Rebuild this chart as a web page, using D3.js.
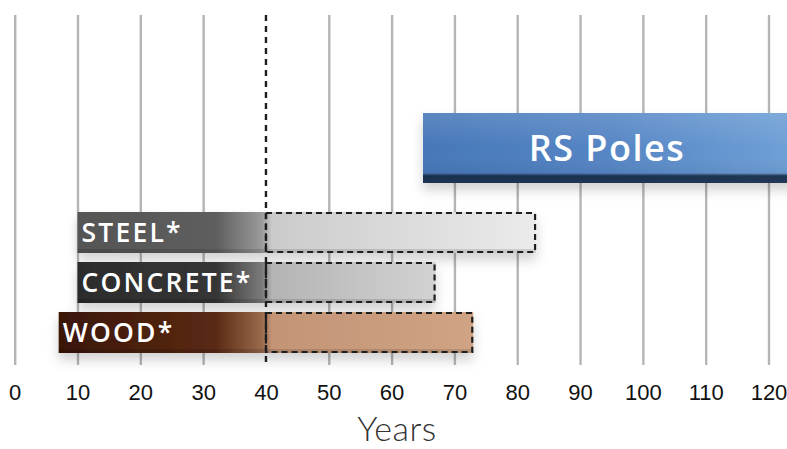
<!DOCTYPE html>
<html>
<head>
<meta charset="utf-8">
<script src="https://cdn.jsdelivr.net/npm/d3@7"></script>
<style>
html,body{margin:0;padding:0;background:#fff;}
svg{display:block;}
</style>
</head>
<body>
<svg id="chart" width="787" height="449"></svg>
<script>
// ---- data ----
const materials = ["STEEL*", "CONCRETE*", "WOOD*"];
const materialStart = [10, 10, 7];
const materialEnd = [83, 67, 73];
const rsLabel = "RS Poles";
const rsStart = 65;
const rsEnd = 125;
const referenceYear = 40;
const tickValues = [0, 10, 20, 30, 40, 50, 60, 70, 80, 90, 100, 110, 120];
const axisTitle = "Years";

// colour stops per material: [dark start, dark mid, fade, light start, light end]
const materialColors = [
  ["#555555", "#5e5e5e", "#9a9a9a", "#cbcbcb", "#ebebeb"],
  ["#2c2c2c", "#353535", "#7a7a7a", "#b4b4b4", "#d2d2d2"],
  ["#3a1606", "#5a2a14", "#9a6a4c", "#c39476", "#d0a385"]
];

const W = 787, H = 449;
const svg = d3.select("#chart");
const defs = svg.append("defs");

const x = d3.scaleLinear().domain([0, 120]).range([14.7, 768.5]);
const y = d3.scaleBand().domain(materials).range([207.5, 357.5]).paddingInner(0.18).paddingOuter(0.09);

const gridTop = 15, gridBottom = 365;

// shadow filter
const f = defs.append("filter").attr("id", "shadow").attr("x", "-10%").attr("y", "-40%").attr("width", "120%").attr("height", "200%");
f.append("feDropShadow").attr("dx", 0).attr("dy", 7).attr("stdDeviation", 6).attr("flood-color", "#000").attr("flood-opacity", 0.18);

// grid via axis
const axis = d3.axisBottom(x).tickValues(tickValues).tickSizeInner(-(gridBottom - gridTop)).tickSizeOuter(0).tickPadding(19).tickFormat(d3.format("d"));
const gAxis = svg.append("g").attr("transform", `translate(0,${gridBottom})`).call(axis);
gAxis.select(".domain").remove();
gAxis.selectAll(".tick line").attr("stroke", "#b5b5b5").attr("stroke-width", 2.4)
  .attr("opacity", d => d === referenceYear ? 0 : 1);
gAxis.selectAll(".tick text").attr("fill", "#111").attr("font-family", "'Liberation Sans', Arial, sans-serif").attr("font-size", 22);

// RS Poles bar
const rsTop = 113, rsH = 70;
const rsGrad = defs.append("linearGradient").attr("id", "rsGrad").attr("gradientUnits", "userSpaceOnUse")
  .attr("x1", x(rsStart)).attr("x2", W).attr("y1", 0).attr("y2", 0);
rsGrad.append("stop").attr("offset", 0).attr("stop-color", "#4677b8");
rsGrad.append("stop").attr("offset", 0.5).attr("stop-color", "#5585c4");
rsGrad.append("stop").attr("offset", 1).attr("stop-color", "#6e9fd6");
const rsV = defs.append("linearGradient").attr("id", "rsV").attr("x1", 0).attr("x2", 0).attr("y1", 0).attr("y2", 1);
rsV.append("stop").attr("offset", 0).attr("stop-color", "#fff").attr("stop-opacity", 0.12);
rsV.append("stop").attr("offset", 0.5).attr("stop-color", "#fff").attr("stop-opacity", 0);
rsV.append("stop").attr("offset", 0.86).attr("stop-color", "#000").attr("stop-opacity", 0.05);
rsV.append("stop").attr("offset", 0.9).attr("stop-color", "#10223c").attr("stop-opacity", 0.85);
rsV.append("stop").attr("offset", 1).attr("stop-color", "#1a2d48").attr("stop-opacity", 0.9);

const rsG = svg.append("g").attr("filter", "url(#shadow)");
rsG.append("rect").attr("x", x(rsStart)).attr("y", rsTop).attr("width", x(rsEnd) - x(rsStart)).attr("height", rsH).attr("fill", "url(#rsGrad)");
svg.append("rect").attr("x", x(rsStart)).attr("y", rsTop).attr("width", x(rsEnd) - x(rsStart)).attr("height", rsH).attr("fill", "url(#rsV)");
svg.append("text").attr("x", 607).attr("y", rsTop + 35).attr("dy", "0.36em").attr("text-anchor", "middle")
  .attr("fill", "#fff").attr("font-family", "'Open Sans', sans-serif").attr("font-weight", 600).attr("font-size", 36)
  .attr("letter-spacing", 1.5)
  .text(rsLabel);

// material bars
materials.forEach((m, i) => {
  const c = materialColors[i];
  const x0 = x(materialStart[i]), x1 = x(materialEnd[i]), xr = x(referenceYear);
  const g = defs.append("linearGradient").attr("id", "mg" + i).attr("gradientUnits", "userSpaceOnUse")
    .attr("x1", x0).attr("x2", x1).attr("y1", 0).attr("y2", 0);
  const off = v => (v - x0) / (x1 - x0);
  g.append("stop").attr("offset", 0).attr("stop-color", c[0]);
  g.append("stop").attr("offset", off(x(32))).attr("stop-color", c[1]);
  g.append("stop").attr("offset", off(xr - 4)).attr("stop-color", c[2]);
  g.append("stop").attr("offset", off(xr + 6)).attr("stop-color", c[3]);
  g.append("stop").attr("offset", 1).attr("stop-color", c[4]);

  const top = y(m), h = y.bandwidth();
  svg.append("rect").attr("x", x0).attr("y", top).attr("width", x1 - x0).attr("height", h)
    .attr("fill", "url(#mg" + i + ")").attr("filter", "url(#shadow)");
  // subtle bottom edge
  svg.append("rect").attr("x", x0).attr("y", top + h - 4).attr("width", x1 - x0).attr("height", 4)
    .attr("fill", "#000").attr("opacity", 0.12);
  // dashed outline
  svg.append("rect").attr("x", xr).attr("y", top + 1).attr("width", x1 - xr - 1).attr("height", h - 2)
    .attr("fill", "none").attr("stroke", "#1e1e1e").attr("stroke-width", 2.2).attr("stroke-dasharray", "6,4");
  svg.append("text").attr("x", x0 + 4).attr("y", top + h / 2).attr("dy", "0.36em")
    .attr("fill", "#fff").attr("font-family", "'Open Sans', sans-serif").attr("font-weight", 600).attr("font-size", 26.5)
    .attr("letter-spacing", 2.2)
    .text(m);
});

// reference dashed line
svg.append("line").attr("x1", x(referenceYear)).attr("x2", x(referenceYear)).attr("y1", gridTop).attr("y2", gridBottom)
  .attr("stroke", "#1e1e1e").attr("stroke-width", 2.4).attr("stroke-dasharray", "6,5");

// axis title
svg.append("text").attr("x", 397).attr("y", 441).attr("text-anchor", "middle")
  .attr("fill", "#333").attr("font-family", "Lato, sans-serif").attr("font-weight", 300).attr("font-size", 34)
  .attr("letter-spacing", 0.5)
  .text(axisTitle);
</script>
</body>
</html>
